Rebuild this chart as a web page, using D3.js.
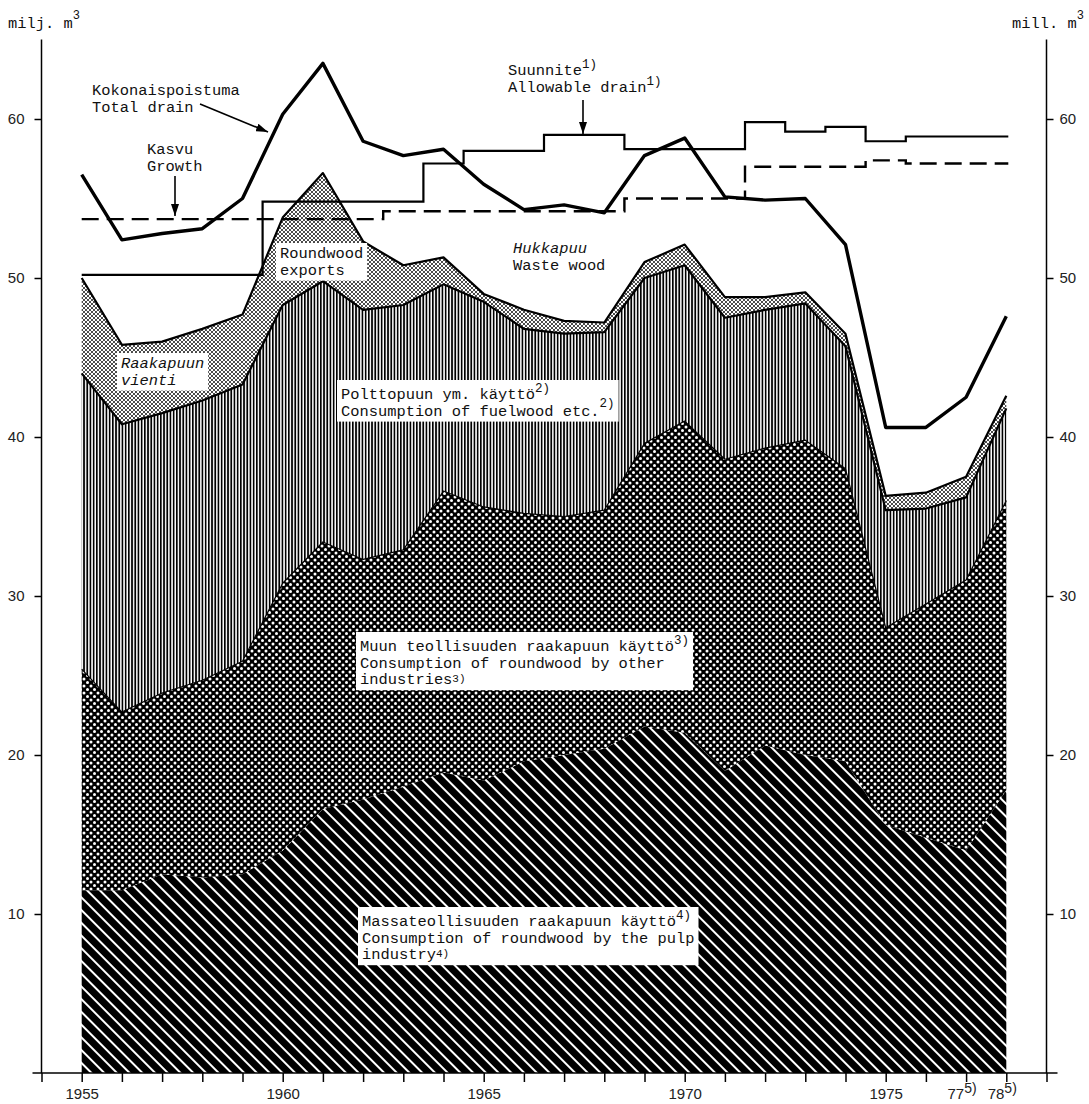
<!DOCTYPE html>
<html>
<head>
<meta charset="utf-8">
<script src="https://cdn.jsdelivr.net/npm/d3@7"></script>
<style>
body{margin:0;background:#fff}
svg{display:block}
text{font-family:"Liberation Mono","DejaVu Sans Mono",monospace;font-size:15.4px;fill:#111}
.axis text{font-family:"Liberation Sans",Arial,sans-serif;font-size:15px;fill:#222}
</style>
</head>
<body>
<svg id="chart"></svg>
<script>

var screen = {width:1089,height:1104}

// years on the x axis
var years = [1955,1956,1957,1958,1959,1960,1961,1962,1963,1964,1965,1966,1967,1968,1969,1970,1971,1972,1973,1974,1975,1976,1977,1978]

// layer amounts, milj. m3 (bottom to top)
var pulpUse    = [11.5,11.5,12.5,12.3,12.5,14.0,16.6,17.2,18.0,18.9,18.4,19.6,20.0,20.4,21.8,21.4,19.0,20.6,20.0,19.6,15.6,14.8,14.0,17.8]
var otherUse   = [13.9,11.2,11.4,12.4,13.4,16.8,16.8,15.1,14.9,17.7,17.2,15.6,15.0,15.0,17.8,19.6,19.6,18.7,19.8,18.4,12.4,14.7,17.0,18.2]
var fuelUse    = [18.6,18.1,17.6,17.6,17.4,17.5,16.4,15.7,15.4,13.0,12.9,11.6,11.5,11.2,10.4, 9.8, 8.9, 8.7, 8.6, 7.7, 7.4, 6.0, 5.2, 5.8]
var exportUse  = [ 6.0, 5.0, 4.5, 4.5, 4.4, 5.5, 6.8, 4.3, 2.5, 1.7, 0.5, 1.2, 0.8, 0.6, 1.0, 1.3, 1.3, 0.8, 0.7, 0.8, 0.9, 1.0, 1.3, 0.8]

// total drain line
var totalDrain = [56.5,52.4,52.8,53.1,55.0,60.3,63.5,58.6,57.7,58.1,55.9,54.3,54.6,54.1,57.7,58.8,55.1,54.9,55.0,52.1,40.6,40.6,42.5,47.6]

// step lines (value holds from this year to the next one)
var allowYears  = [1955,1959.5,1963.5,1964.5,1966.5,1968.5,1971.5,1972.5,1973.5,1974.5,1975.5,1978.05]
var allowValues = [50.2,54.8,57.2,58.0,59.0,58.1,59.8,59.2,59.5,58.6,58.9,58.9]
var growthYears  = [1955,1962.5,1968.5,1971.5,1974.5,1975.5,1978.05]
var growthValues = [53.7,54.2,55.0,57.0,57.4,57.2,57.2]

// axis ticks
var xTicks = [1954,1955,1956,1957,1958,1959,1960,1961,1962,1963,1964,1965,1966,1967,1968,1969,1970,1971,1972,1973,1974,1975,1976,1977,1978,1979]
var xLabels = {1955:"1955",1960:"1960",1965:"1965",1970:"1970",1975:"1975",1977:"77",1978:"78"}
var yTicks = [10,20,30,40,50,60]

var keys = ["pulp","other","fuel","exports"]
var fills = {pulp:"url(#hatch)",other:"url(#dots)",fuel:"url(#vlines)",exports:"url(#stipple)"}

var svg = d3.select("#chart")
    .attr("width",screen.width)
    .attr("height",screen.height)

var x = d3.scaleLinear().domain([1954,1979]).range([41.5,1046.5])
var y = d3.scaleLinear().domain([0,65]).range([1073,39.5])

// patterns
var defs = svg.append("defs")

var hatch = defs.append("pattern").attr("id","hatch")
    .attr("patternUnits","userSpaceOnUse").attr("width",9).attr("height",9)
    .attr("patternTransform","rotate(45)")
hatch.append("rect").attr("width",9).attr("height",9).attr("fill","#000")
hatch.append("rect").attr("width",9).attr("height",2).attr("fill","#fff")

var dots = defs.append("pattern").attr("id","dots")
    .attr("patternUnits","userSpaceOnUse").attr("width",7).attr("height",7)
dots.append("rect").attr("width",7).attr("height",7).attr("fill","#000")
dots.selectAll("circle").data([[0,0],[7,0],[0,7],[7,7],[3.5,3.5]]).enter()
    .append("circle").attr("cx",function(d){return d[0]}).attr("cy",function(d){return d[1]})
    .attr("r",1.5).attr("fill","#fff")

var vlines = defs.append("pattern").attr("id","vlines")
    .attr("patternUnits","userSpaceOnUse").attr("width",3.2).attr("height",10)
vlines.append("rect").attr("width",3.2).attr("height",10).attr("fill","#fff")
vlines.append("rect").attr("width",1.7).attr("height",10).attr("fill","#000")

var stipple = defs.append("pattern").attr("id","stipple")
    .attr("patternUnits","userSpaceOnUse").attr("width",4).attr("height",4)
stipple.append("rect").attr("width",4).attr("height",4).attr("fill","#fff")
stipple.selectAll("circle").data([[0,0],[4,0],[0,4],[4,4],[2,2]]).enter()
    .append("circle").attr("cx",function(d){return d[0]}).attr("cy",function(d){return d[1]})
    .attr("r",0.95).attr("fill","#000")

var marker = defs.append("marker").attr("id","arrow")
    .attr("viewBox","0 0 12 8").attr("refX",12).attr("refY",4)
    .attr("markerWidth",12).attr("markerHeight",8).attr("markerUnits","userSpaceOnUse")
    .attr("orient","auto")
marker.append("path").attr("d","M0,0L12,4L0,8Z").attr("fill","#000")

// stacked areas
var rows = years.map(function(yr,i){
    return {year:yr,pulp:pulpUse[i],other:otherUse[i],fuel:fuelUse[i],exports:exportUse[i]}
})
var stacked = d3.stack().keys(keys)(rows)

var area = d3.area()
    .x(function(d){return x(d.data.year)})
    .y0(function(d){return y(d[0])})
    .y1(function(d){return y(d[1])})

svg.append("g").selectAll("path")
    .data(stacked)
    .enter()
    .append("path")
    .attr("d",area)
    .attr("fill",function(d){return fills[d.key]})

var topLine = d3.line()
    .x(function(d){return x(d.data.year)})
    .y(function(d){return y(d[1])})

svg.append("g").selectAll("path")
    .data(stacked.slice(1))
    .enter()
    .append("path")
    .attr("d",topLine)
    .attr("fill","none")
    .attr("stroke","#000")
    .attr("stroke-width",function(d){return d.key=="other" ? 1.2 : 2.2})
    .attr("stroke-linejoin","round")

// total drain
var drainLine = d3.line()
    .x(function(d,i){return x(years[i])})
    .y(function(d){return y(d)})

svg.append("path")
    .attr("d",drainLine(totalDrain))
    .attr("fill","none").attr("stroke","#000").attr("stroke-width",3.4)
    .attr("stroke-linejoin","round")

// allowable drain and growth steps
var stepLine = d3.line()
    .x(function(d){return x(d[0])})
    .y(function(d){return y(d[1])})
    .curve(d3.curveStepAfter)

svg.append("path")
    .attr("d",stepLine(d3.zip(allowYears,allowValues)))
    .attr("fill","none").attr("stroke","#000").attr("stroke-width",2.2)

svg.append("path")
    .attr("d",stepLine(d3.zip(growthYears,growthValues)))
    .attr("fill","none").attr("stroke","#000").attr("stroke-width",2.4)
    .attr("stroke-dasharray","17,8")

// axes
var bottom = svg.append("g").attr("class","axis")
    .attr("transform","translate(0,"+y(0)+")")
    .call(d3.axisBottom(x).tickValues(xTicks).tickSize(9).tickSizeOuter(0).tickPadding(6)
        .tickFormat(function(d){return xLabels[d] || ""}))
bottom.select(".domain").remove()
bottom.append("line").attr("x1",x(1954)-9).attr("x2",x(1979)+11).attr("stroke","#000").attr("stroke-width",1.5)
bottom.selectAll(".tick line").attr("stroke-width",1.5)
bottom.selectAll(".tick text")
    .filter(function(d){return d==1977 || d==1978})
    .attr("text-anchor","end")
    .attr("dx",10)
    .append("tspan").attr("dy","-0.4em").style("font-size","14px").text("5)")

var left = svg.append("g").attr("class","axis")
    .attr("transform","translate("+x(1954)+",0)")
    .call(d3.axisLeft(y).tickValues(yTicks).tickSize(7).tickSizeOuter(0).tickPadding(10).tickFormat(d3.format("d")))
left.select(".domain").remove()
left.append("line").attr("y1",y(65)).attr("y2",y(0)).attr("stroke","#000").attr("stroke-width",1.5)
left.selectAll(".tick line").attr("stroke-width",1.5)

var right = svg.append("g").attr("class","axis")
    .attr("transform","translate("+x(1979)+",0)")
    .call(d3.axisRight(y).tickValues(yTicks).tickSize(7).tickSizeOuter(0).tickPadding(6).tickFormat(d3.format("d")))
right.select(".domain").remove()
right.append("line").attr("y1",y(65)).attr("y2",y(0)).attr("stroke","#000").attr("stroke-width",1.5)
right.selectAll(".tick line").attr("stroke-width",1.5)

// unit labels
var unitL = svg.append("text").attr("x",8).attr("y",28)
unitL.append("tspan").text("milj. m")
unitL.append("tspan").attr("dy",-9).style("font-size","12px").text("3")
var unitR = svg.append("text").attr("x",1012).attr("y",28)
unitR.append("tspan").text("mill. m")
unitR.append("tspan").attr("dy",-9).style("font-size","12px").text("3")

// labels: each line is [text, superscript, raise, size]
var label = function(px, py, lines, opts)
{
    opts = opts || {}
    var g = svg.append("g")
    var t = g.append("text").attr("x",px).attr("y",py)
        .style("font-style",opts.italic ? "italic" : null)
    lines.forEach(function(line,i){
        t.append("tspan").attr("x",px).attr("y",py+i*16.6).text(line[0])
        if (line[1])
        {
            t.append("tspan").attr("dy",line[2] || -6).style("font-size",(line[3] || 12.5)+"px").text(line[1])
        }
    })
    if (opts.box)
    {
        var b = t.node().getBBox()
        g.insert("rect","text")
            .attr("x",b.x-4).attr("y",b.y-2)
            .attr("width",b.width+8).attr("height",b.height+3)
            .attr("fill","#fff")
    }
}

label(92,95,[["Kokonaispoistuma"],["Total drain"]])
label(147,154,[["Kasvu"],["Growth"]])
label(508,75,[["Suunnite","1)",-7],["Allowable drain","1)",-7]])
label(513,253,[["Hukkapuu"]],{italic:true})
label(513,270,[["Waste wood"]])
label(280,258,[["Roundwood"],["exports"]],{box:true})
label(121,368,[["Raakapuun"],["vienti"]],{box:true,italic:true})
label(341,399,[["Polttopuun ym. käyttö","2)",-7],["Consumption of fuelwood etc.","2)",-9]],{box:true})
label(360,651,[["Muun teollisuuden raakapuun käyttö","3)",-7],["Consumption of roundwood by other"],["industries","3)",-2,11]],{box:true})
label(362,926,[["Massateollisuuden raakapuun käyttö","4)",-7],["Consumption of roundwood by the pulp"],["industry","4)",-2,11]],{box:true})

// arrows
var arrows = [[[200,104],[268,132]],[[175,176],[175,216]],[[583,100],[583,134]]]
svg.selectAll(".arrow").data(arrows).enter()
    .append("line").attr("class","arrow")
    .attr("x1",function(d){return d[0][0]}).attr("y1",function(d){return d[0][1]})
    .attr("x2",function(d){return d[1][0]}).attr("y2",function(d){return d[1][1]})
    .attr("stroke","#000").attr("stroke-width",1.6)
    .attr("marker-end","url(#arrow)")

</script>
</body>
</html>
